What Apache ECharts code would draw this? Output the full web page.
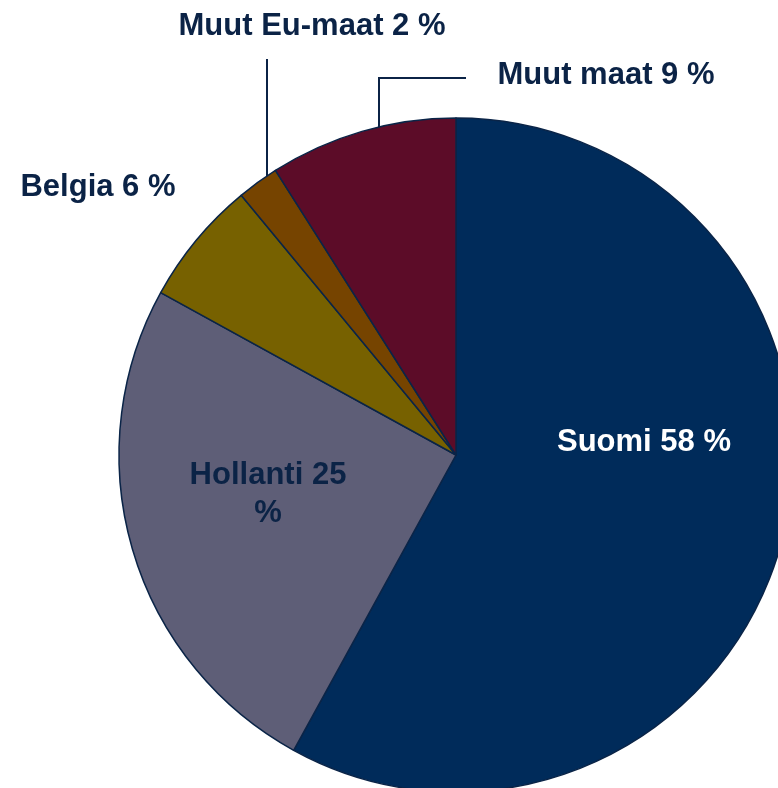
<!DOCTYPE html>
<html>
<head>
<meta charset="utf-8">
<script src="https://cdn.jsdelivr.net/npm/echarts@6/dist/echarts.min.js"></script>
<style>
html,body{margin:0;padding:0;background:#fff;}
#chart{width:778px;height:788px;}
</style>
</head>
<body>
<div id="chart"></div>
<script>
const categories = ['Suomi', 'Hollanti', 'Belgia', 'Muut Eu-maat', 'Muut maat'];
const values = [58, 25, 6, 2, 9];
const labelTexts = ['Suomi 58 %', 'Hollanti 25\n%', 'Belgia 6 %', 'Muut Eu-maat 2 %', 'Muut maat 9 %'];

const colors = ['#002B5A', '#5E5E77', '#776100', '#764400', '#5C0C28'];
const textColors = ['#ffffff', '#0B2346', '#0B2346', '#0B2346', '#0B2346'];
const CX = 456, CY = 455, R = 337;
// label centre positions
const labelPos = [[644, 442], [268, 494], [98, 187], [312, 26], [606, 75]];

function edgeY(x) { return CY - Math.sqrt(R * R - (x - CX) * (x - CX)); }

const chart = echarts.init(document.getElementById('chart'), null, {renderer: 'canvas'});
chart.setOption({
  animation: false,
  series: [{
    type: 'pie',
    center: [CX, CY],
    radius: [0, R],
    startAngle: 90,
    clockwise: true,
    avoidLabelOverlap: false,
    itemStyle: { borderColor: '#0A2447', borderWidth: 1.5 },
    label: {
      show: true,
      position: 'outside',
      fontFamily: 'Liberation Sans, Arial, sans-serif',
      fontWeight: 'bold',
      fontSize: 31,
      lineHeight: 38,
      align: 'center'
    },
    labelLine: { show: false, lineStyle: { color: '#0B2346', width: 2 }, smooth: false },
    labelLayout: function (p) {
      const i = p.dataIndex;
      const res = { x: labelPos[i][0], y: labelPos[i][1], align: 'center', verticalAlign: 'middle' };
      if (i === 3) {
        const lx = 267;
        res.labelLinePoints = [[lx, edgeY(lx) + 2], [lx, 59], [lx, 59]];
      } else if (i === 4) {
        const lx = 379;
        res.labelLinePoints = [[lx, edgeY(lx) + 2], [lx, 78], [466, 78]];
      }
      return res;
    },
    data: categories.map((c, i) => ({
      name: c,
      value: values[i],
      itemStyle: { color: colors[i] },
      label: { formatter: labelTexts[i], color: textColors[i] },
      labelLine: { show: i === 3 || i === 4 }
    }))
  }]
});
</script>
</body>
</html>
